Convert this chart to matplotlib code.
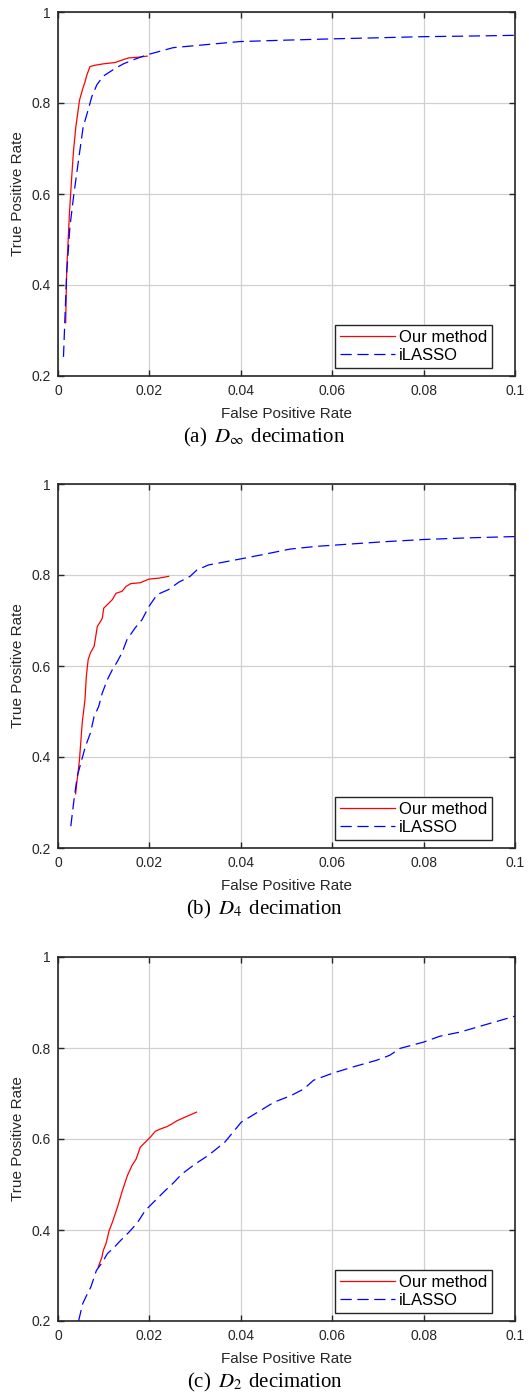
import matplotlib
matplotlib.use("Agg")
import matplotlib.pyplot as plt
from matplotlib.ticker import FuncFormatter, MultipleLocator

# ---------------- data ----------------
# (a) D_inf decimation
a_our_fpr = [0.00168, 0.0019, 0.0025, 0.0030, 0.0034, 0.0039, 0.0047, 0.0054, 0.0059, 0.0063, 0.0070,
             0.0081, 0.0099, 0.0125, 0.0139, 0.0154, 0.0179, 0.0195]
a_our_tpr = [0.317, 0.432, 0.557, 0.637, 0.696, 0.747, 0.806, 0.831, 0.846, 0.861, 0.880,
             0.883, 0.886, 0.889, 0.894, 0.899, 0.901, 0.903]
a_las_fpr = [0.0012, 0.0015, 0.0019, 0.0026, 0.0034, 0.0045, 0.0055, 0.0066, 0.0074, 0.0085, 0.0099,
             0.0125, 0.0143, 0.0165, 0.0195, 0.0252, 0.031, 0.0398, 0.0493, 0.0602, 0.0712, 0.080,
             0.0894, 0.100]
a_las_tpr = [0.242, 0.323, 0.425, 0.527, 0.594, 0.675, 0.747, 0.785, 0.814, 0.840, 0.859,
             0.876, 0.886, 0.895, 0.906, 0.9216, 0.927, 0.935, 0.938, 0.941, 0.9436, 0.9458,
             0.947, 0.9487]

# (b) D_4 decimation
b_our_fpr = [0.00385, 0.0042, 0.0047, 0.0053, 0.0059, 0.0062, 0.0066, 0.0071, 0.0079, 0.0082, 0.0086,
             0.0093, 0.0097, 0.0100, 0.0111, 0.0119, 0.0127, 0.0140, 0.0149, 0.0159, 0.0180, 0.0199,
             0.0220, 0.0242]
b_our_tpr = [0.319, 0.350, 0.394, 0.475, 0.526, 0.577, 0.614, 0.629, 0.643, 0.661, 0.687,
             0.698, 0.705, 0.727, 0.738, 0.746, 0.760, 0.764, 0.775, 0.781, 0.783, 0.791,
             0.793, 0.797]
b_las_fpr = [0.0028, 0.0035, 0.0042, 0.0052, 0.0060, 0.0071, 0.0079, 0.0089, 0.0097, 0.0108, 0.0119,
             0.0130, 0.0140, 0.0151, 0.0169, 0.0184, 0.0199, 0.0217, 0.0242, 0.0264, 0.0289, 0.0304,
             0.0329, 0.0398, 0.0449, 0.0508, 0.0566, 0.0639, 0.0712, 0.080, 0.0894, 0.100]
b_las_tpr = [0.248, 0.306, 0.357, 0.394, 0.423, 0.453, 0.489, 0.511, 0.541, 0.570, 0.592,
             0.610, 0.629, 0.658, 0.684, 0.702, 0.731, 0.757, 0.768, 0.784, 0.797, 0.811,
             0.822, 0.835, 0.845, 0.857, 0.863, 0.868, 0.873, 0.878, 0.8815, 0.8845]

# (c) D_2 decimation
c_our_fpr = [0.0088, 0.0096, 0.0099, 0.0105, 0.0112, 0.0119, 0.0130, 0.0141, 0.0152, 0.0162, 0.0171,
             0.0180, 0.0191, 0.0202, 0.0213, 0.0224, 0.0238, 0.0249, 0.0260, 0.0278, 0.0303]
c_our_tpr = [0.3185, 0.340, 0.355, 0.370, 0.399, 0.417, 0.450, 0.487, 0.520, 0.542, 0.556,
             0.582, 0.593, 0.604, 0.617, 0.622, 0.627, 0.633, 0.640, 0.648, 0.659]
c_las_fpr = [0.0045, 0.0054, 0.0061, 0.0072, 0.0084, 0.0097, 0.0108, 0.0123, 0.0137, 0.0155, 0.0173,
             0.0191, 0.0213, 0.0235, 0.0249, 0.0271, 0.0300, 0.0329, 0.0365, 0.0401, 0.0437, 0.0473,
             0.0509, 0.0538, 0.0559, 0.0602, 0.0646, 0.0697, 0.0726, 0.0748, 0.080, 0.0836, 0.088,
             0.0938, 0.100]
c_las_tpr = [0.200, 0.238, 0.253, 0.275, 0.311, 0.329, 0.348, 0.362, 0.377, 0.395, 0.415,
             0.443, 0.465, 0.487, 0.500, 0.523, 0.545, 0.564, 0.593, 0.637, 0.659, 0.681,
             0.695, 0.710, 0.729, 0.745, 0.7585, 0.773, 0.784, 0.799, 0.813, 0.826, 0.835,
             0.852, 0.870]

series_labels = ["Our method", "iLASSO"]
captions = [r"(a)$\;\;D_\infty\;\,$decimation", r"(b)$\;\;D_4\;\,$decimation", r"(c)$\;\;D_2\;\,$decimation"]
x_label = "False Positive Rate"
y_label = "True Positive Rate"

panels = [
    (a_our_fpr, a_our_tpr, a_las_fpr, a_las_tpr),
    (b_our_fpr, b_our_tpr, b_las_fpr, b_las_tpr),
    (c_our_fpr, c_our_tpr, c_las_fpr, c_las_tpr),
]

# ---------------- style ----------------
plt.rcParams['font.family'] = ['Liberation Sans', 'DejaVu Sans']
plt.rcParams['mathtext.fontset'] = 'stix'

W, H = 529, 1395
fig = plt.figure(figsize=(W / 100, H / 100), dpi=100)

ax_left, ax_right = 58, 515
ax_tops = [12, 484, 957]
ax_h = 364
cap_y = [437, 909, 1382]
axcol = '#262626'

def fmt(v, pos):
    return ('%g' % round(v, 4))

for i, (of, ot, lf, lt) in enumerate(panels):
    top = ax_tops[i]
    ax = fig.add_axes([ax_left / W, 1 - (top + ax_h) / H, (ax_right - ax_left) / W, ax_h / H])
    ax.plot(of, ot, color='#ff0000', lw=0.9, solid_joinstyle='round', label=series_labels[0], zorder=3)
    ax.plot(lf, lt, color='#0000ff', lw=0.9, linestyle=(0, (9, 4.5)), label=series_labels[1], zorder=3)
    ax.set_xlim(0, 0.1)
    ax.set_ylim(0.2, 1.0)
    ax.xaxis.set_major_locator(MultipleLocator(0.02))
    ax.yaxis.set_major_locator(MultipleLocator(0.2))
    ax.xaxis.set_major_formatter(FuncFormatter(fmt))
    ax.yaxis.set_major_formatter(FuncFormatter(fmt))
    ax.grid(True, color='#d0d0d0', lw=0.9, zorder=0)
    ax.set_axisbelow(True)
    for sp in ax.spines.values():
        sp.set_color(axcol)
        sp.set_linewidth(1.2)
    ax.tick_params(direction='in', length=4, width=1.0, color=axcol, labelcolor=axcol,
                   labelsize=10, top=True, right=True, pad=5)
    ax.tick_params(axis='x', pad=6)
    ax.set_xlabel(x_label, fontsize=11, color=axcol, labelpad=6)
    ax.set_ylabel(y_label, fontsize=11, color=axcol, labelpad=5)
    leg = ax.legend(loc='lower right', bbox_to_anchor=(1 - 23 / 457, 8 / 364), fontsize=12,
                    frameon=True, fancybox=False, framealpha=1, edgecolor='#262626',
                    handlelength=3.3, handletextpad=0.2, borderpad=0.3, labelspacing=0.2,
                    borderaxespad=0)
    leg.get_frame().set_linewidth(1.0)
    for t in leg.get_texts():
        t.set_color('black')
    fig.text(0.5, 1 - cap_y[i] / H, captions[i], ha='center', va='center', fontsize=15,
             family=['Liberation Serif', 'DejaVu Serif'], color='black')

fig.savefig('out.png', dpi=100)
